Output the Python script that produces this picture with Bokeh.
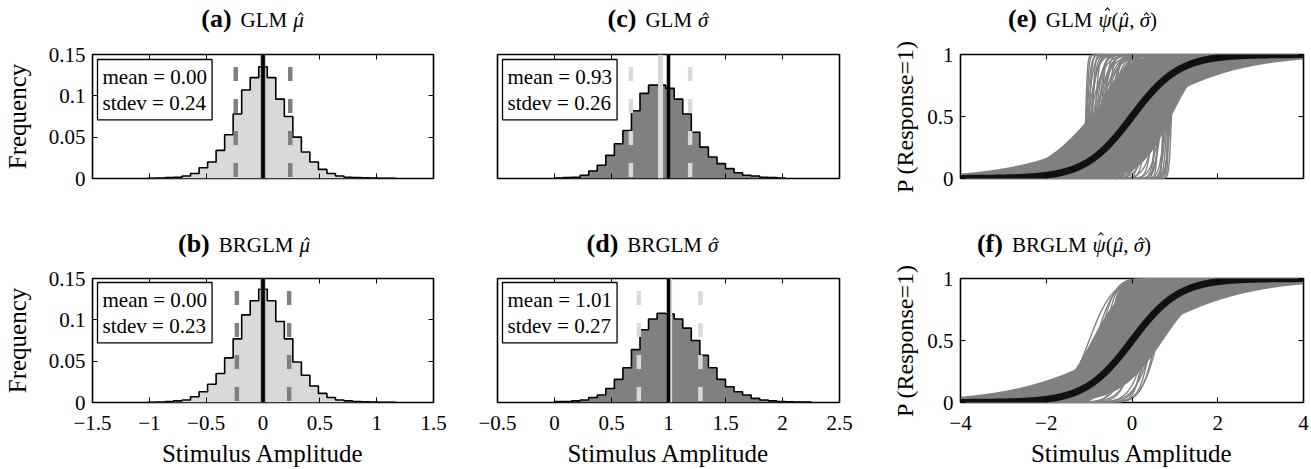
import math
import numpy as np
from bokeh.plotting import figure
from bokeh.layouts import column, row
from bokeh.models import (Range1d, FixedTicker, CustomJSTickFormatter, LinearAxis,
                          Label, Span, Div)
from bokeh.embed import file_html
from bokeh.resources import INLINE

FONT = "Liberation Serif"

# ------------------------------------------------------------------ data
BIN_W = 0.075
# (a) GLM mu-hat : relative frequencies, first bin centred at -0.975
a_first_center = -0.975
a_freq = [0.0003, 0.0005, 0.001, 0.0015, 0.003, 0.006, 0.013, 0.020, 0.034, 0.053,
          0.078, 0.107, 0.122, 0.135, 0.122, 0.096, 0.075, 0.050, 0.032, 0.020,
          0.011, 0.006, 0.003, 0.0015, 0.001, 0.0007, 0.0005, 0.0003, 0.0002]
# (b) BRGLM mu-hat
b_first_center = -0.975
b_freq = [0.0003, 0.0006, 0.001, 0.002, 0.003, 0.007, 0.013, 0.022, 0.035, 0.054,
          0.077, 0.106, 0.123, 0.137, 0.123, 0.098, 0.077, 0.049, 0.033, 0.020,
          0.011, 0.006, 0.003, 0.002, 0.001, 0.0008, 0.0005, 0.0003, 0.0002]
# (c) GLM sigma-hat, first bin starts at 0
c_first_center = 0.0375
c_freq = [0.0005, 0.001, 0.0015, 0.004, 0.009, 0.016, 0.028, 0.042, 0.058, 0.082,
          0.103, 0.113, 0.113, 0.109, 0.096, 0.078, 0.056, 0.038, 0.026, 0.018,
          0.012, 0.007, 0.004, 0.003, 0.0015, 0.001, 0.0005]
# (d) BRGLM sigma-hat
d_first_center = 0.0375
d_freq = [0.001, 0.001, 0.002, 0.003, 0.006, 0.009, 0.017, 0.028, 0.042, 0.064,
          0.088, 0.101, 0.108, 0.107, 0.101, 0.090, 0.075, 0.057, 0.042, 0.028,
          0.019, 0.013, 0.009, 0.005, 0.003, 0.002, 0.001, 0.0008, 0.0005, 0.0004]

stats_mean = {"a": 0.00, "b": 0.00, "c": 0.93, "d": 1.01}
stats_sd = {"a": 0.24, "b": 0.23, "c": 0.26, "d": 0.27}
true_value = {"a": 0.0, "b": 0.0, "c": 1.0, "d": 1.0}

# psychometric curves (mu, sigma) -- dense core of the band
e_core_mu = [0.00, -0.94, -0.85, 0.90, -0.30, 0.30]
e_core_sig = [2.18, 1.16, 0.60, 0.65, 1.00, 1.30]
# sparse steep GLM fits (upper-left and lower-right)
e_up_mu = [-1.08, -1.06, -1.05, -1.03, -1.02, -1.00, -0.98, -0.97, -0.94, -0.92,
           -0.90, -0.88, -0.86, -0.84, -0.82, -0.80, -0.78, -0.76, -0.74, -0.72,
           -0.70, -0.68, -0.65, -0.62, -0.60, -0.58, -0.55, -0.52, -0.50, -0.48,
           -0.45, -0.42, -0.40, -0.38, -0.35, -0.32, -0.30, -0.25, -0.20, -0.15,
           -0.10, -0.05, 0.05, 0.15]
e_up_sig = [0.04, 0.05, 0.08, 0.12, 0.20, 0.06, 0.30, 0.15, 0.10, 0.05,
            0.20, 0.35, 0.08, 0.15, 0.25, 0.40, 0.12, 0.22, 0.30, 0.08,
            0.18, 0.30, 0.10, 0.40, 0.35, 0.12, 0.22, 0.25, 0.15, 0.50,
            0.40, 0.10, 0.28, 0.35, 0.20, 0.15, 0.45, 0.40, 0.35, 0.30,
            0.50, 0.40, 0.45, 0.50]
e_lo_mu = [-0.40, -0.35, -0.30, -0.25, -0.20, -0.15, -0.10, -0.05, 0.00, 0.05,
           0.10, 0.15, 0.20, 0.25, 0.30, 0.35, 0.40, 0.45, 0.50, 0.52,
           0.55, 0.58, 0.60, 0.62, 0.65, 0.68, 0.70, 0.72, 0.75, 0.78,
           0.80, 0.82, 0.84, 0.86, 0.88, 0.90, 0.92]
e_lo_sig = [0.30, 0.20, 0.15, 0.30, 0.40, 0.12, 0.10, 0.35, 0.25, 0.15,
            0.35, 0.20, 0.08, 0.30, 0.20, 0.12, 0.30, 0.25, 0.12, 0.35,
            0.05, 0.10, 0.25, 0.05, 0.10, 0.20, 0.15, 0.03, 0.06, 0.12,
            0.10, 0.07, 0.04, 0.03, 0.08, 0.10, 0.05]

f_core_mu = [0.00, -0.92, -0.55, 0.70, 0.20]
f_core_sig = [2.30, 0.70, 0.20, 0.90, 1.00]
f_lo_mu = [-0.50, -0.35, -0.20, -0.10, 0.00, 0.10, 0.20, 0.30, 0.35, 0.40, 0.45, 0.50,
           0.55, 0.60]
f_lo_sig = [0.30, 0.40, 0.25, 0.45, 0.35, 0.30, 0.40, 0.20, 0.35, 0.30, 0.25, 0.40,
            0.30, 0.35]
f_up_mu = [-1.00, -0.85, -0.75, -0.65]
f_up_sig = [0.50, 0.40, 0.30, 0.25]

true_mu, true_sig = 0.0, 1.0

hist_ticks_mu = [-1.5, -1, -0.5, 0, 0.5, 1, 1.5]
hist_ticks_sig = [-0.5, 0, 0.5, 1, 1.5, 2, 2.5]
freq_ticks = [0, 0.05, 0.1, 0.15]
psi_xticks = [-4, -2, 0, 2, 4]
psi_yticks = [0, 0.5, 1]

# panel titles
titles_top = [("(a)", "GLM", "mu"), ("(c)", "GLM", "sigma"), ("(e)", "GLM", "psi")]
titles_bot = [("(b)", "BRGLM", "mu"), ("(d)", "BRGLM", "sigma"), ("(f)", "BRGLM", "psi")]
title_cx_top = [252.5, 658, 1082.5]
title_cx_bot = [244, 652.5, 1064]

# ------------------------------------------------------------------ helpers
LIGHT = "#d9d9d9"
MID = "#808080"


def num_fmt():
    return CustomJSTickFormatter(code="""
        if (Math.abs(tick) < 1e-9) { return '0'; }
        const s = String(Math.abs(Math.round(tick * 1000) / 1000));
        return (tick < 0 ? '\u2212' : '') + s;
    """)


def blank_fmt():
    return CustomJSTickFormatter(code="return '';")


def setup_axis(ax, ticks, show, standoff=8):
    ax.ticker = FixedTicker(ticks=ticks, minor_ticks=[])
    ax.formatter = num_fmt() if show else blank_fmt()
    ax.major_tick_in = 5
    ax.major_tick_out = 0
    ax.major_tick_line_color = "black"
    ax.major_tick_line_width = 1
    ax.minor_tick_line_color = None
    ax.axis_line_color = None
    ax.major_label_text_font = FONT
    ax.major_label_text_font_size = "21px" if show else "1px"
    ax.major_label_text_color = "black"
    ax.major_label_standoff = standoff if show else 0
    ax.axis_label_text_font = FONT
    ax.axis_label_text_font_size = "25px"
    ax.axis_label_text_font_style = "normal"
    ax.axis_label_text_color = "black"


def make_panel(w, h, bl, br, bt, bb, xr, yr, xticks, yticks, xlab, ylab):
    p = figure(width=w, height=h, x_range=Range1d(*xr), y_range=Range1d(*yr),
               output_backend="svg", toolbar_location=None, tools="", title=None,
               min_border_left=bl, min_border_right=br,
               min_border_top=bt, min_border_bottom=bb)
    p.grid.visible = False
    p.outline_line_color = "black"
    p.outline_line_width = 1.6
    p.outline_line_alpha = 1.0
    p.background_fill_color = "white"
    p.border_fill_color = "white"
    setup_axis(p.below[0], xticks, xlab, standoff=13)
    if yticks:
        setup_axis(p.left[0], yticks, ylab, standoff=7)
    else:
        p.left[0].visible = False
    top = LinearAxis()
    setup_axis(top, xticks, False)
    p.add_layout(top, "above")
    if yticks:
        right = LinearAxis()
        setup_axis(right, yticks, False)
        p.add_layout(right, "right")
    return p


def hat(ch, top_px=6):
    # the circumflex accent is drawn as a small CSS chevron above the letter
    return ("<span style='position:relative;display:inline-block;font-style:italic'>"
            f"{ch}<span style='position:absolute;left:calc(50% + 2px);top:{top_px}px;"
            "width:4px;height:4px;border-left:1.3px solid #000;"
            "border-top:1.3px solid #000;"
            "transform:translateX(-50%) rotate(45deg)'></span></span>")


MATH = {
    "mu": hat("\u03bc"),
    "sigma": hat("\u03c3"),
    "psi": hat("\u03c8", 1) + "(" + hat("\u03bc") + ", " + hat("\u03c3") + ")",
}


def make_strip(h, top, titles, centers):
    parts = []
    for (tag, name, sym), cx in zip(titles, centers):
        parts.append(
            f"<div style='position:absolute;left:{cx}px;top:{top}px;"
            "transform:translateX(-50%);white-space:nowrap;"
            f"font-family:\"{FONT}\";font-size:26px;line-height:26px;color:#000'>"
            f"<span style='font-weight:bold'>{tag}</span>"
            f"<span style='font-size:21px;margin-left:9px'>{name}</span>"
            f"<span style='font-size:21px;margin-left:6px'>{MATH[sym]}</span></div>")
    html = (f"<div style='position:relative;width:1311px;height:{h}px;"
            "background:#fff'>" + "".join(parts) + "</div>")
    return Div(text=html, width=1311, height=h, margin=(0, 0, 0, 0))


def add_hist(p, key, first_center, freq, fill, dash_color, mean_color, fh):
    n = len(freq)
    edges = first_center - BIN_W / 2 + BIN_W * np.arange(n + 1)
    fr = np.array(freq)
    sx = np.repeat(edges, 2)
    sy = np.concatenate([[0.0], np.repeat(fr, 2), [0.0]])
    p.patch(x=sx, y=sy, fill_color=fill, line_color=None)
    p.line(x=sx, y=sy, line_color="black", line_width=1.6)
    m, s = stats_mean[key], stats_sd[key]
    p.segment(x0=[m - s, m + s], x1=[m - s, m + s], y0=[0.135, 0.135], y1=[0, 0],
              line_color=dash_color, line_width=4.5, line_dash="14 18")
    p.add_layout(Span(location=m, dimension="height", line_color=mean_color,
                      line_width=5))
    p.add_layout(Span(location=true_value[key], dimension="height",
                      line_color="black", line_width=3.5))
    p.add_layout(Label(x=5, y=fh - 5, x_units="screen", y_units="screen",
                       text=f"mean = {m:.2f}\nstdev = {s:.2f}",
                       text_font=FONT, text_font_size="21px", text_line_height=1.1,
                       text_align="left", text_baseline="top", text_color="black",
                       background_fill_color="white", background_fill_alpha=1.0,
                       border_line_color="black", border_line_width=1.3, padding=5))


def psi(x, mu, sig):
    return 1.0 / (1.0 + np.exp(-(x - mu) * math.pi / (sig * math.sqrt(3.0))))


XC = np.linspace(-4, 4, 801)


def add_curves(p, core_mu, core_sig, sparse_mu, sparse_sig):
    core = np.array([psi(XC, m, s) for m, s in zip(core_mu, core_sig)])
    p.varea(x=XC, y1=core.min(axis=0), y2=core.max(axis=0), fill_color=MID)
    xs = [XC] * (len(core_mu) + len(sparse_mu))
    ys = [psi(XC, m, s) for m, s in zip(core_mu + sparse_mu, core_sig + sparse_sig)]
    p.multi_line(xs=xs, ys=ys, line_color=MID, line_width=1.4)
    p.line(XC, psi(XC, true_mu, true_sig), line_color="#111111", line_width=7)


# ------------------------------------------------------------------ layout
W1, L1, R1 = 460, 92, 27
W2, L2, R2 = 420, 37, 41
W3, L3, R3 = 431, 80, 8
S1, S2 = 34, 30                 # title strips
H1, T1, B1 = 196, 20, 52
H2, T2, B2 = 209, 18, 66

pa = make_panel(W1, H1, L1, R1, T1, B1, (-1.5, 1.5), (0, 0.15), hist_ticks_mu,
                freq_ticks, False, True)
add_hist(pa, "a", a_first_center, a_freq, LIGHT, MID, MID, H1 - T1 - B1)
pa.left[0].axis_label = "Frequency"
pa.left[0].axis_label_standoff = 15

pb = make_panel(W1, H2, L1, R1, T2, B2, (-1.5, 1.5), (0, 0.15), hist_ticks_mu,
                freq_ticks, True, True)
add_hist(pb, "b", b_first_center, b_freq, LIGHT, MID, MID, H2 - T2 - B2)
pb.left[0].axis_label = "Frequency"
pb.left[0].axis_label_standoff = 15
pb.below[0].axis_label = "Stimulus Amplitude"
pb.below[0].axis_label_standoff = 7

pc = make_panel(W2, H1, L2, R2, T1, B1, (-0.5, 2.5), (0, 0.15), hist_ticks_sig,
                [], False, False)
add_hist(pc, "c", c_first_center, c_freq, MID, LIGHT, LIGHT, H1 - T1 - B1)

pd_ = make_panel(W2, H2, L2, R2, T2, B2, (-0.5, 2.5), (0, 0.15), hist_ticks_sig,
                 [], True, False)
add_hist(pd_, "d", d_first_center, d_freq, MID, LIGHT, LIGHT, H2 - T2 - B2)
pd_.below[0].axis_label = "Stimulus Amplitude"
pd_.below[0].axis_label_standoff = 7

pe = make_panel(W3, H1, L3, R3, T1, B1, (-4, 4), (0, 1), psi_xticks, psi_yticks,
                False, True)
add_curves(pe, e_core_mu, e_core_sig, e_up_mu + e_lo_mu, e_up_sig + e_lo_sig)
pe.left[0].axis_label = "P (Response=1)"
pe.left[0].axis_label_standoff = 6
pe.left[0].axis_label_text_font_size = "24px"

pf = make_panel(W3, H2, L3, R3, T2, B2, (-4, 4), (0, 1), psi_xticks, psi_yticks,
                True, True)
add_curves(pf, f_core_mu, f_core_sig, f_up_mu + f_lo_mu, f_up_sig + f_lo_sig)
pf.left[0].axis_label = "P (Response=1)"
pf.left[0].axis_label_standoff = 6
pf.left[0].axis_label_text_font_size = "24px"
pf.below[0].axis_label = "Stimulus Amplitude"
pf.below[0].axis_label_standoff = 7

strip1 = make_strip(S1, 6, titles_top, title_cx_top)
strip2 = make_strip(S2, 0.5, titles_bot, title_cx_bot)

layout = column(strip1, row(pa, pc, pe, spacing=0), strip2,
                row(pb, pd_, pf, spacing=0), spacing=0)

open("out.html", "w").write(file_html(layout, INLINE))
